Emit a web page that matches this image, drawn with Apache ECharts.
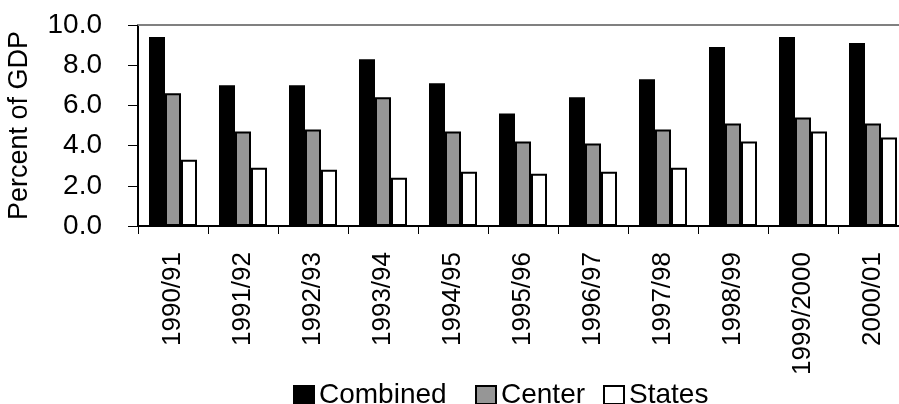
<!DOCTYPE html>
<html>
<head>
<meta charset="utf-8">
<script src="https://cdn.jsdelivr.net/npm/echarts@6/dist/echarts.min.js"></script>
<style>html,body{margin:0;padding:0;background:#fff}#c{width:899px;height:404px}</style>
</head>
<body>
<div id="c"></div>
<script>
var categories = ['1990/91','1991/92','1992/93','1993/94','1994/95','1995/96','1996/97','1997/98','1998/99','1999/2000','2000/01'];
var combined = [9.4, 7.0, 7.0, 8.3, 7.1, 5.6, 6.4, 7.3, 8.9, 9.4, 9.1];
var center   = [6.6, 4.7, 4.8, 6.4, 4.7, 4.2, 4.1, 4.8, 5.1, 5.4, 5.1];
var states   = [3.3, 2.9, 2.8, 2.4, 2.7, 2.6, 2.7, 2.9, 4.2, 4.7, 4.4];
var seriesNames = ['Combined', 'Center', 'States'];
var yTicks = [0, 2, 4, 6, 8, 10];

var font = 'Liberation Sans, Arial, sans-serif';
var chart = echarts.init(document.getElementById('c'), null, {renderer: 'canvas'});
function bar(name, data, color) {
  return {
    name: name, type: 'bar', data: data, barWidth: 16, barGap: '0%',
    itemStyle: {color: color, borderColor: '#000', borderWidth: 2},
    emphasis: {disabled: true}
  };
}
var legendLefts = [288, 470, 598];
var legends = seriesNames.map(function (n, i) {
  return {
    left: legendLefts[i], top: 376, itemWidth: 20, itemHeight: 18, itemGap: 0,
    icon: 'rect', selectedMode: false,
    textStyle: {fontSize: 28, color: '#000', fontFamily: font},
    data: [n]
  };
});
chart.setOption({
  animation: false,
  textStyle: {fontFamily: font},
  grid: {left: 138, top: 25, width: 770, height: 201, containLabel: false, outerBoundsMode: 'none'},
  legend: legends,
  xAxis: [{
    type: 'category', data: categories, position: 'bottom',
    axisLine: {lineStyle: {color: '#000', width: 2}},
    axisTick: {show: true, interval: 0, length: 8, lineStyle: {color: '#000', width: 1}},
    axisLabel: {interval: 0, rotate: 90, margin: 26, fontSize: 26, color: '#000', fontFamily: font},
    splitLine: {show: false}
  }, {
    type: 'category', data: categories, position: 'top',
    axisLine: {lineStyle: {color: '#808080', width: 2}},
    axisTick: {show: false}, axisLabel: {show: false}, splitLine: {show: false}
  }],
  yAxis: {
    type: 'value', min: 0, max: 10, interval: 2,
    name: 'Percent of GDP', nameLocation: 'middle', nameRotate: 90, nameGap: 105,
    nameMoveOverlap: false,
    nameTextStyle: {fontSize: 27, color: '#000', fontFamily: font},
    axisLine: {show: true, lineStyle: {color: '#000', width: 2}},
    axisTick: {show: true, length: 10, lineStyle: {color: '#000', width: 1}},
    axisLabel: {margin: 36, fontSize: 28, color: '#000', fontFamily: font,
      formatter: function (v) { return yTicks.indexOf(v) >= 0 ? v.toFixed(1) : ''; }},
    splitLine: {show: false}
  },
  series: [
    bar(seriesNames[0], combined, '#000000'),
    bar(seriesNames[1], center, '#969696'),
    bar(seriesNames[2], states, '#ffffff')
  ]
});
</script>
</body>
</html>
